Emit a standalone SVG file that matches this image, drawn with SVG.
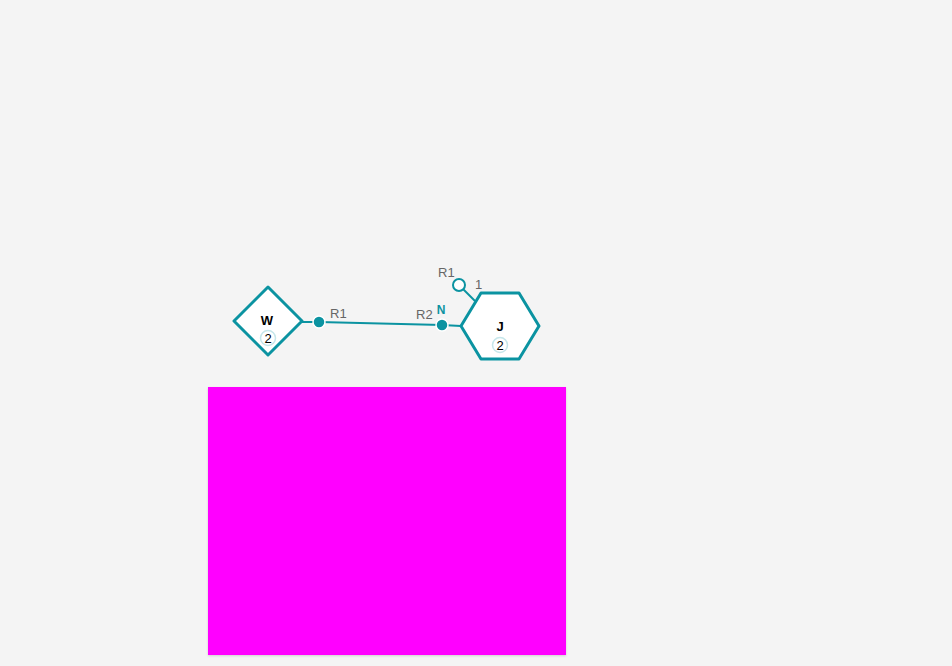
<svg xmlns="http://www.w3.org/2000/svg" width="952" height="666" viewBox="0 0 952 666">
<defs>
<style>
.shape{fill:#fff;stroke:#0b93a1;stroke-width:3;stroke-linejoin:round}
.edge{stroke:#0b93a1;stroke-width:2;fill:none}
.port{fill:#0b93a1;stroke:#fff;stroke-width:1.5}
.oport{fill:#fff;stroke:#0b93a1;stroke-width:2}
.lbl{font-family:"Liberation Sans",Arial,sans-serif;font-size:13px;fill:#666}
.name{font-family:"Liberation Sans",Arial,sans-serif;font-size:13px;font-weight:bold;fill:#000;text-anchor:middle}
.cnt{font-family:"Liberation Sans",Arial,sans-serif;font-size:13px;fill:#000;text-anchor:middle}
.badge{fill:#fff;stroke:#c5e6ea;stroke-width:1.5}
.n{font-family:"Liberation Sans",Arial,sans-serif;font-size:12px;font-weight:bold;fill:#0b93a1;text-anchor:middle}
</style>
<filter id="sh" x="-5%" y="-5%" width="110%" height="110%"><feDropShadow dx="0" dy="1" stdDeviation="1" flood-color="#000" flood-opacity="0.15"/></filter>
</defs>
<rect width="952" height="666" fill="#f4f4f4"/>
<rect x="208" y="387" width="358" height="268" fill="#ff00ff" filter="url(#sh)"/>
<g id="connectors">
<line class="edge" x1="302" y1="322" x2="319" y2="322"/>
<line class="edge" x1="319" y1="322" x2="442" y2="325"/>
<line class="edge" x1="442" y1="325" x2="461" y2="326"/>
<line class="edge" x1="459" y1="285" x2="475" y2="301"/>
</g>
<g id="node-W">
<path class="shape" d="M268 287 L302 321 L268 355 L234 321 Z"/>
<text class="name" x="267" y="325">W</text>
<circle class="badge" cx="268" cy="338" r="7.5"/>
<text class="cnt" x="268" y="343">2</text>
<circle class="port" cx="319" cy="322" r="6"/>
<text class="lbl" x="330" y="318">R1</text>
</g>
<g id="node-J">
<path class="shape" d="M461 326 L481 293 L519 293 L539 326 L519 359 L481 359 Z"/>
<text class="name" x="500" y="331">J</text>
<circle class="badge" cx="500" cy="345" r="7.5"/>
<text class="cnt" x="500" y="350">2</text>
<circle class="port" cx="442" cy="325" r="6"/>
<text class="lbl" x="416" y="319">R2</text>
<text class="n" x="441" y="314">N</text>
<circle class="oport" cx="459" cy="285" r="6"/>
<text class="lbl" x="438" y="277">R1</text>
<text class="lbl" x="475" y="289">1</text>
</g>
</svg>
